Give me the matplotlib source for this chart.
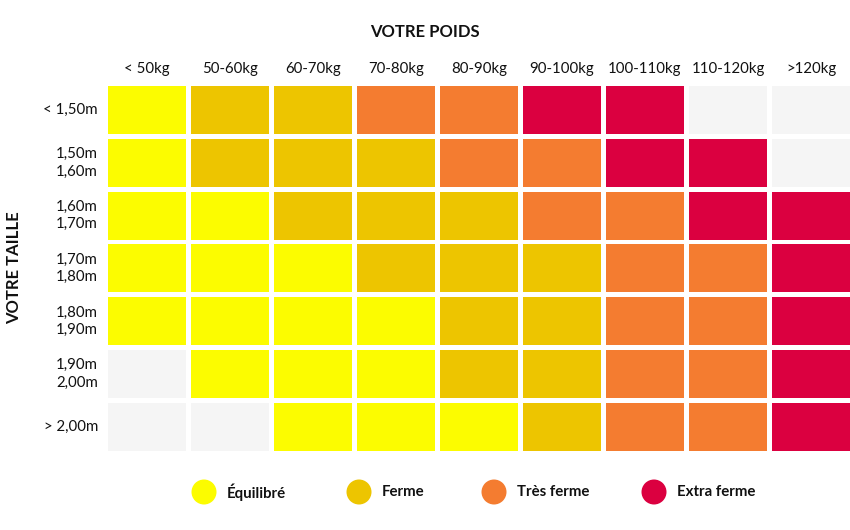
import matplotlib
matplotlib.use("Agg")
import matplotlib.pyplot as plt
from matplotlib.patches import Circle

plt.rcParams['font.family'] = ['Lato', 'DejaVu Sans']

weights = ["< 50kg", "50-60kg", "60-70kg", "70-80kg", "80-90kg",
           "90-100kg", "100-110kg", "110-120kg", ">120kg"]
heights = ["< 1,50m", "1,50m\n1,60m", "1,60m\n1,70m", "1,70m\n1,80m",
           "1,80m\n1,90m", "1,90m\n2,00m", "> 2,00m"]
# 0 = no recommendation, 1 = Équilibré, 2 = Ferme, 3 = Très ferme, 4 = Extra ferme
levels = [
    [1, 2, 2, 3, 3, 4, 4, 0, 0],
    [1, 2, 2, 2, 3, 3, 4, 4, 0],
    [1, 1, 2, 2, 2, 3, 3, 4, 4],
    [1, 1, 1, 2, 2, 2, 3, 3, 4],
    [1, 1, 1, 1, 2, 2, 3, 3, 4],
    [0, 1, 1, 1, 2, 2, 3, 3, 4],
    [0, 0, 1, 1, 1, 2, 3, 3, 4],
]
legend_labels = ["Équilibré", "Ferme", "Très ferme", "Extra ferme"]
colors = ["#F5F5F5", "#FCFC00", "#EDC500", "#F47C30", "#DB0040"]

W, H = 850, 530
fig = plt.figure(figsize=(8.5, 5.3), dpi=100)

cw, ch = 0.94, 0.909
left, top = 108, 86
pitch_x, pitch_y = 83, 52.8
ax_w = len(weights) - 1 + cw
ax_h = len(heights) - 1 + ch
ax = fig.add_axes([left / W, 1 - (top + ax_h * pitch_y) / H,
                   ax_w * pitch_x / W, ax_h * pitch_y / H])
for r, row in enumerate(levels):
    ax.bar(range(len(weights)), [ch] * len(row), bottom=[r] * len(row),
           width=cw, align='edge', color=[colors[v] for v in row], linewidth=0)
ax.set_xlim(0, ax_w)
ax.set_ylim(ax_h, 0)
ax.axis('off')

for i, w in enumerate(weights):
    ax.annotate(w, xy=(i + cw / 2, 0), xytext=(0, 10), textcoords='offset pixels',
                ha='center', va='bottom', fontsize=10.8, color='#111111')
for j, h in enumerate(heights):
    ax.annotate(h, xy=(0, j + ch / 2), xytext=(-10, 0), textcoords='offset pixels',
                ha='right', va='center', fontsize=10.8, color='#111111',
                linespacing=1.3)

fig.text(425 / W, 1 - 32 / H, "VOTRE POIDS", ha='center', va='center',
         fontsize=12, fontweight='bold', color='#111111')
fig.text(14 / W, 1 - 268 / H, "VOTRE TAILLE", ha='center', va='center',
         rotation=90, fontsize=12, fontweight='bold', color='#111111')

lax = fig.add_axes([0, 0, 1, 1], zorder=-1)
lax.set_xlim(0, W)
lax.set_ylim(H, 0)
lax.axis('off')
cx = [204, 359, 494, 654]
for k, lab in enumerate(legend_labels):
    lax.add_patch(Circle((cx[k], 492), 12.5, color=colors[k + 1], lw=0))
    lax.text(cx[k] + 23, 492, lab, ha='left', va='center', fontsize=10.8,
             fontweight='bold', color='#111111')

fig.savefig("out.png", dpi=100)
